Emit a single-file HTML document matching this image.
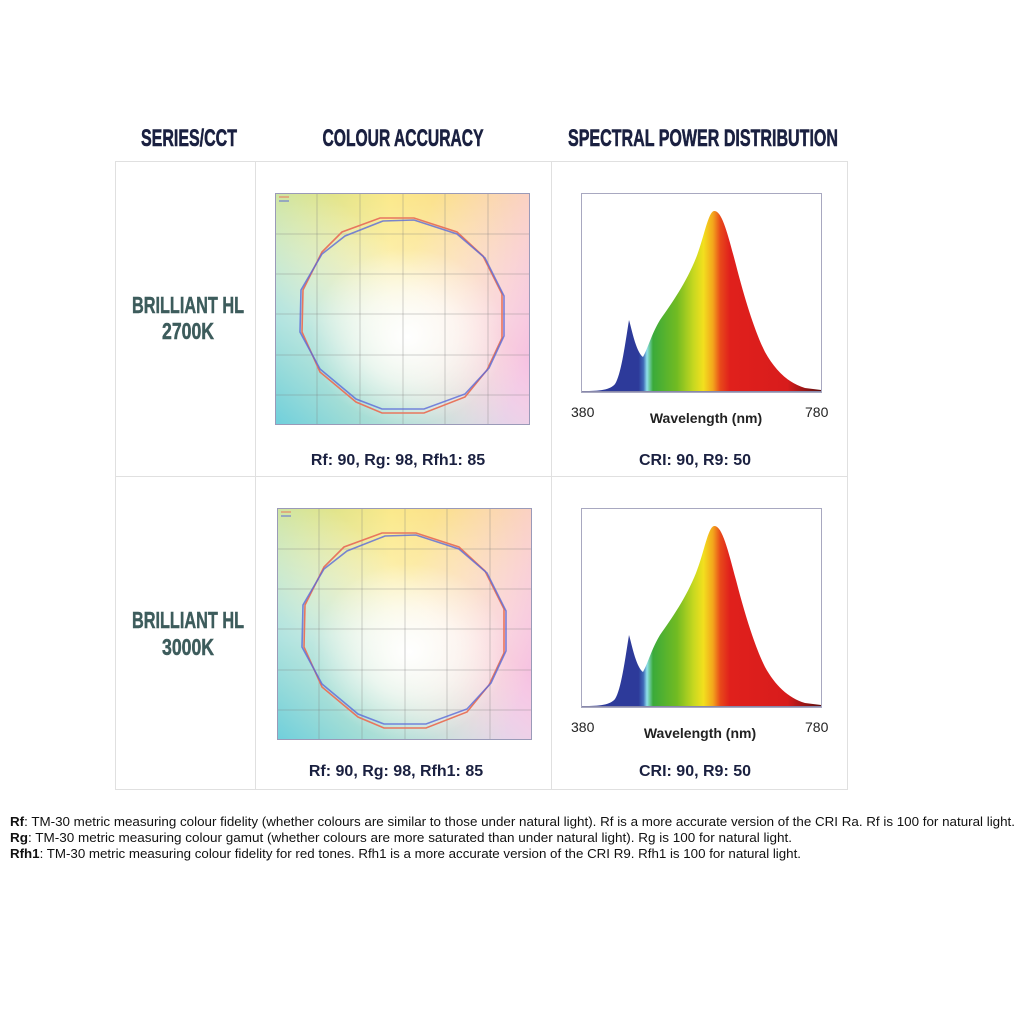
<!DOCTYPE html>
<html><head><meta charset="utf-8"><style>
html,body{margin:0;padding:0;background:#fff;width:1024px;height:1024px;overflow:hidden}
svg{display:block}
.h{font-family:"Liberation Sans Narrow","Liberation Sans",sans-serif;font-weight:bold;fill:#1a2040;stroke:#1a2040;stroke-width:0.6;font-size:24px}
.s{font-family:"Liberation Sans Narrow","Liberation Sans",sans-serif;font-weight:bold;fill:#3d5c5c;stroke:#3d5c5c;stroke-width:0.5;font-size:23px}
.st{font-family:"Liberation Sans",sans-serif;font-weight:bold;fill:#1a2040;font-size:16px}
.ax{font-family:"Liberation Sans",sans-serif;fill:#222;font-size:14px}
.wl{font-family:"Liberation Sans",sans-serif;font-weight:bold;fill:#222;font-size:14px}
.fn{font-family:"Liberation Sans",sans-serif;fill:#111;font-size:12.5px}
</style></head><body>
<svg width="1024" height="1024" viewBox="0 0 1024 1024" xmlns="http://www.w3.org/2000/svg">
<defs>
 <linearGradient id="bgY" x1="0" y1="0" x2="1" y2="0">
  <stop offset="0" stop-color="#c8e08a"/><stop offset="0.45" stop-color="#fbe98a"/><stop offset="1" stop-color="#fbd08e"/>
 </linearGradient>
 <radialGradient id="wc" cx="0.52" cy="0.62" r="0.38">
  <stop offset="0" stop-color="#fff" stop-opacity="1"/><stop offset="0.5" stop-color="#fff" stop-opacity="0.6"/><stop offset="1" stop-color="#fff" stop-opacity="0"/>
 </radialGradient>
 <linearGradient id="cy" x1="0" y1="1" x2="0.6" y2="0.35">
  <stop offset="0" stop-color="#6fcfdc"/><stop offset="0.45" stop-color="#a8e2ea" stop-opacity="0.7"/><stop offset="1" stop-color="#fff" stop-opacity="0"/>
 </linearGradient>
 <linearGradient id="pk" x1="1" y1="0.7" x2="0.45" y2="0.5">
  <stop offset="0" stop-color="#f6c2e2"/><stop offset="1" stop-color="#fde6f0" stop-opacity="0"/>
 </linearGradient>
 <linearGradient id="topfade" x1="0" y1="0" x2="0" y2="1">
  <stop offset="0" stop-color="#fff" stop-opacity="0"/><stop offset="0.55" stop-color="#fff" stop-opacity="0.55"/><stop offset="1" stop-color="#fff" stop-opacity="0"/>
 </linearGradient>
 <linearGradient id="spec" gradientUnits="userSpaceOnUse" x1="581" y1="0" x2="821" y2="0">
  <stop offset="0" stop-color="#2d3a9a"/><stop offset="0.24" stop-color="#2d3a9a"/>
  <stop offset="0.26" stop-color="#3f6ab8"/><stop offset="0.275" stop-color="#8fe0ea"/>
  <stop offset="0.30" stop-color="#3aaa3a"/><stop offset="0.40" stop-color="#72bb22"/>
  <stop offset="0.47" stop-color="#c8d820"/><stop offset="0.51" stop-color="#f2e01e"/>
  <stop offset="0.55" stop-color="#f3a51c"/><stop offset="0.58" stop-color="#e84a1a"/>
  <stop offset="0.62" stop-color="#e0201c"/><stop offset="0.86" stop-color="#d81c1c"/>
  <stop offset="1" stop-color="#5a0e0e"/>
 </linearGradient>
 <g id="cv">
  <rect x="0" y="0" width="255" height="232" fill="url(#bgY)"/>
  <rect x="0" y="0" width="255" height="232" fill="url(#topfade)"/>
  <rect x="0" y="0" width="255" height="232" fill="url(#pk)"/>
  <rect x="0" y="0" width="255" height="232" fill="url(#cy)"/>
  <rect x="0" y="0" width="255" height="232" fill="url(#wc)"/>
  <g stroke="#7a7a7a" stroke-opacity="0.35" stroke-width="1">
   <line x1="42" y1="0" x2="42" y2="232"/><line x1="85" y1="0" x2="85" y2="232"/><line x1="128" y1="0" x2="128" y2="232"/><line x1="170" y1="0" x2="170" y2="232"/><line x1="213" y1="0" x2="213" y2="232"/>
   <line x1="0" y1="41" x2="255" y2="41"/><line x1="0" y1="81" x2="255" y2="81"/><line x1="0" y1="121" x2="255" y2="121"/><line x1="0" y1="162" x2="255" y2="162"/><line x1="0" y1="202" x2="255" y2="202"/>
  </g>
  <rect x="0.5" y="0.5" width="254" height="231" fill="none" stroke="#9a9ab8" stroke-width="1"/>
  <polygon fill="none" stroke="#e8765e" stroke-width="1.6" points="105,25 139,25 182,39 208,63 227,101 227,145 212,177 190,204 149,220 107,220 81,209 45,179 27,139 28,97 47,59 67,39"/>
  <polygon fill="none" stroke="#5a6ad8" stroke-opacity="0.8" stroke-width="1.6" points="108,28 139,27 182,41 210,65 229,103 229,143 214,175 190,201 149,216 107,216 81,206 45,176 25,139 26,97 47,61 70,43"/>
  <line x1="4" y1="4" x2="14" y2="4" stroke="#e8765e"/><line x1="4" y1="8" x2="14" y2="8" stroke="#5a6ad8"/>
 </g>
 <g id="sp">
  <rect x="581.5" y="193.5" width="240" height="199" fill="#fff" stroke="#a8a8c0"/>
  <path fill="url(#spec)" d="M583,391 C600,391 610,390 615,384 C621,375 625,345 629,320 C632,330 636,352 643,357 C648,348 652,333 660,320 C672,303 686,283 696,258 C704,238 708,212 714,211 C722,210 728,235 736,265 C745,300 755,332 765,352 C775,370 788,383 805,388 L821,390 L821,392 L583,392 Z"/>
  <line x1="582" y1="391.5" x2="821" y2="391.5" stroke="#8888aa"/>
 </g>
</defs>

<text class="h" x="189" y="146" text-anchor="middle" textLength="96" lengthAdjust="spacingAndGlyphs">SERIES/CCT</text>
<text class="h" x="403" y="146" text-anchor="middle" textLength="161" lengthAdjust="spacingAndGlyphs">COLOUR ACCURACY</text>
<text class="h" x="703" y="146" text-anchor="middle" textLength="270" lengthAdjust="spacingAndGlyphs">SPECTRAL POWER DISTRIBUTION</text>

<g stroke="#e0e0e0" stroke-width="1" fill="none">
 <rect x="115.5" y="161.5" width="732" height="628"/>
 <line x1="255.5" y1="161" x2="255.5" y2="790"/>
 <line x1="551.5" y1="161" x2="551.5" y2="790"/>
 <line x1="115" y1="476.5" x2="848" y2="476.5"/>
</g>

<text class="s" x="188" y="313" text-anchor="middle" textLength="112" lengthAdjust="spacingAndGlyphs">BRILLIANT HL</text>
<text class="s" x="188" y="339" text-anchor="middle" textLength="52" lengthAdjust="spacingAndGlyphs">2700K</text>
<text class="s" x="188" y="628" text-anchor="middle" textLength="112" lengthAdjust="spacingAndGlyphs">BRILLIANT HL</text>
<text class="s" x="188" y="655" text-anchor="middle" textLength="52" lengthAdjust="spacingAndGlyphs">3000K</text>

<use href="#cv" transform="translate(275,193)"/>
<use href="#cv" transform="translate(277,508)"/>
<use href="#sp"/>
<use href="#sp" transform="translate(0,315)"/>

<text class="ax" x="571" y="417">380</text>
<text class="ax" x="805" y="417">780</text>
<text class="wl" x="706" y="423" text-anchor="middle">Wavelength (nm)</text>
<text class="ax" x="571" y="732">380</text>
<text class="ax" x="805" y="732">780</text>
<text class="wl" x="700" y="738" text-anchor="middle">Wavelength (nm)</text>

<text class="st" x="398" y="465" text-anchor="middle">Rf: 90, Rg: 98, Rfh1: 85</text>
<text class="st" x="695" y="465" text-anchor="middle">CRI: 90, R9: 50</text>
<text class="st" x="396" y="776" text-anchor="middle">Rf: 90, Rg: 98, Rfh1: 85</text>
<text class="st" x="695" y="776" text-anchor="middle">CRI: 90, R9: 50</text>

<text class="fn" x="10" y="826" textLength="1005" lengthAdjust="spacingAndGlyphs"><tspan font-weight="bold">Rf</tspan>: TM-30 metric measuring colour fidelity (whether colours are similar to those under natural light). Rf is a more accurate version of the CRI Ra. Rf is 100 for natural light.</text>
<text class="fn" x="10" y="842" textLength="782" lengthAdjust="spacingAndGlyphs"><tspan font-weight="bold">Rg</tspan>: TM-30 metric measuring colour gamut (whether colours are more saturated than under natural light). Rg is 100 for natural light.</text>
<text class="fn" x="10" y="858" textLength="791" lengthAdjust="spacingAndGlyphs"><tspan font-weight="bold">Rfh1</tspan>: TM-30 metric measuring colour fidelity for red tones. Rfh1 is a more accurate version of the CRI R9. Rfh1 is 100 for natural light.</text>
</svg>
</body></html>
